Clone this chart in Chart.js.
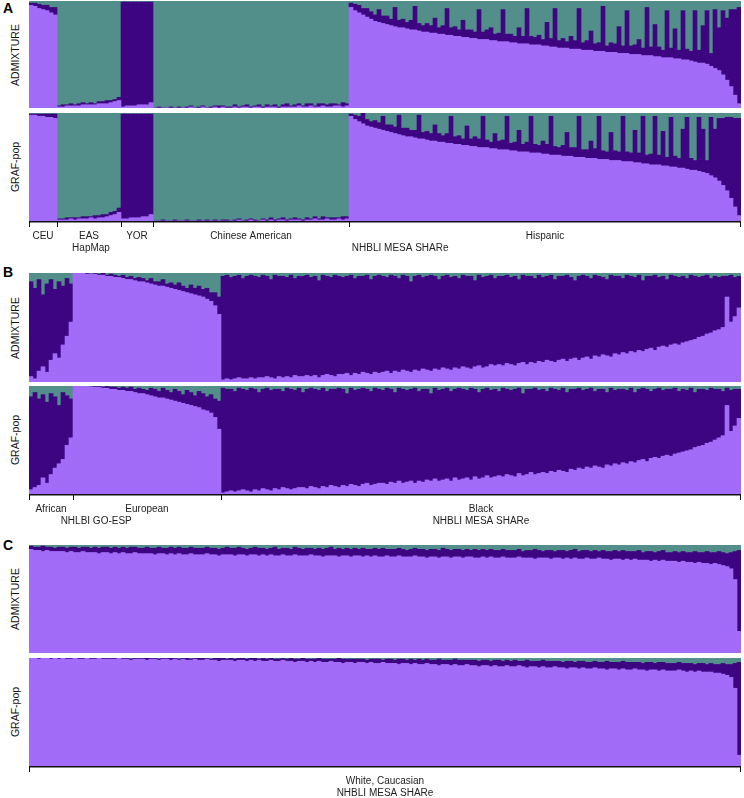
<!DOCTYPE html>
<html>
<head>
<meta charset="utf-8">
<script src="https://cdn.jsdelivr.net/npm/chart.js@4.4.1/dist/chart.umd.min.js"></script>
<style>
  body { margin: 0; background: #fff; width: 744px; height: 798px; position: relative; overflow: hidden;
         font-family: "Liberation Sans", Arial, sans-serif; }
  .row { position: absolute; left: 24px; width: 720px; }
  .letter { position: absolute; left: 3px; font-weight: bold; font-size: 14px; line-height: 14px; color: #000; }
  .ylab { position: absolute; left: -45px; width: 120px; text-align: center; font-size: 10.5px; line-height: 12px;
          color: #111; transform: rotate(-90deg); }
</style>
</head>
<body>

<div class="letter" style="top:1px">A</div>
<div class="letter" style="top:265px">B</div>
<div class="letter" style="top:538px">C</div>

<div class="ylab" style="top:49px">ADMIXTURE</div>
<div class="ylab" style="top:161px">GRAF-pop</div>
<div class="ylab" style="top:322px">ADMIXTURE</div>
<div class="ylab" style="top:434px">GRAF-pop</div>
<div class="ylab" style="top:593px">ADMIXTURE</div>
<div class="ylab" style="top:706px">GRAF-pop</div>

<div class="row" style="top:1px;height:107px"><canvas id="aAdm"></canvas></div>
<div class="row" style="top:113px;height:145px"><canvas id="aGraf"></canvas></div>
<div class="row" style="top:273px;height:109px"><canvas id="bAdm"></canvas></div>
<div class="row" style="top:386px;height:145px"><canvas id="bGraf"></canvas></div>
<div class="row" style="top:545px;height:108px"><canvas id="cAdm"></canvas></div>
<div class="row" style="top:658px;height:140px"><canvas id="cGraf"></canvas></div>

<script>
const LIGHT = '#a26cf8';   // European
const DARK = '#3d0580';    // African
const TEAL = '#528f8b';    // East Asian

// ---------- panel A: CEU | EAS | YOR | Chinese American | Hispanic ----------
const aGroups = ['CEU', 'EAS', 'YOR', 'Chinese American', 'Hispanic'];
const aGroupSizes = [7, 16, 8, 49, 98];
const aSubLabels = ['HapMap', 'NHBLI MESA SHARe'];
const aSubLabelPos = [15, 92.3];

const aAdmLight = [
  96,95,93,92,91,89,87,
  1,1,2,2,2,2,3,3,3,3,4,4,4,5,6,7,
  1,2,2,2,3,3,3,5,
  0,0,0,0,0,0,0,0,0,1,0,0,1,0,0,1,0,1,0,0,1,0,1,1,0,1,1,0,1,1,1,0,1,1,1,1,2,1,1,2,1,1,2,1,1,2,2,1,2,
  94,91,89,87,85,83,81,80,79,78, 77,76,75,75,74,73,73,72,71,71, 70,70,69,69,68,68,67,67,66,66,
  65,65,64,64,64,63,63,62,62,62, 61,61,60,60,60,59,59,59,58,58, 57,57,56,56,56,55,55,55,54,54,
  54,53,53,53,52,52,52,51,51,51, 50,50,50,49,49,49,48,48,47,47, 47,46,46,45,45,44,43,42,42,41,
  39,37,35,31,26,20,12,4
];
const aAdmDark = [
  2,3,4,4,5,5,7,
  1,2,1,2,1,2,2,1,2,1,2,2,3,2,2,3,
  98,97,97,97,96,96,96,94,
  0,1,0,0,1,0,1,0,1,1,0,1,1,0,1,1,2,1,1,1,2,1,1,2,1,1,2,1,2,1,2,1,2,3,1,2,2,1,3,2,1,3,2,2,3,2,1,4,2,
  4,6,7,6,8,7,6,12,7,8, 6,18,7,8,6,9,22,7,6,8, 7,14,6,8,25,7,9,6,16,7,
  8,6,28,7,9,12,6,8,30,7, 8,6,15,7,33,8,7,9,6,22, 8,36,7,9,6,12,8,38,7,9,
  18,7,8,42,6,9,8,25,7,40, 8,9,14,7,45,8,30,9,7,44, 9,28,8,46,10,9,48,12,35,50,
  12,55,40,60,58,72,80,90
];
const aGrafLight = [
  98,98,97,97,96,96,95,
  1,1,1,2,1,2,2,2,3,2,3,3,4,5,6,8,
  2,2,3,3,3,4,4,6,
  0,0,0,0,0,0,0,0,0,0,0,0,0,0,0,0,0,0,0,0,0,1,0,0,1,0,0,1,0,1,0,1,1,0,1,1,1,0,1,1,2,1,1,2,1,1,2,1,2,
  97,94,92,90,88,87,86,85,84,83, 82,81,80,79,78,78,77,76,76,75, 74,74,73,73,72,72,71,71,70,70,
  69,69,68,68,68,67,67,66,66,66, 65,65,64,64,64,63,63,63,62,62, 61,61,61,60,60,60,59,59,59,58,
  58,58,57,57,57,56,56,56,55,55, 55,54,54,53,53,52,52,52,51,51, 50,50,49,49,48,47,47,46,45,44,
  42,40,37,33,28,21,13,5
];
const aGrafDark = [
  1,1,2,2,3,3,4,
  1,1,2,1,2,1,2,2,1,3,2,3,2,3,3,4,
  97,97,96,96,96,95,95,93,
  0,0,1,0,0,1,0,0,1,0,0,1,0,1,0,1,0,1,1,0,1,1,0,1,1,1,0,1,1,2,1,1,2,1,1,2,1,1,2,1,2,1,3,1,2,2,1,3,2,
  2,4,5,10,6,5,7,6,13,6, 7,6,18,7,8,6,7,22,6,8, 7,15,8,6,9,25,7,8,6,18,
  7,9,8,29,7,6,14,8,9,31, 7,8,20,7,9,34,8,7,12,9, 36,8,7,10,22,8,9,38,7,8,
  16,9,40,8,7,26,9,8,42,9, 8,30,9,44,8,10,45,9,32,8, 46,10,9,36,48,11,9,50,40,12,
  54,45,58,62,68,75,82,90
];

// ---------- panel B: African | European (GO-ESP) | Black (MESA) ----------
const bGroups = ['African', 'European', 'Black'];
const bGroupSizes = [11, 37, 130];
const bSubLabels = ['NHLBI GO-ESP', 'NHBLI MESA SHARe'];
const bSubLabelPos = [16.3, 112.5];

const bAdmLight = [
  5,3,10,14,9,20,26,22,34,42,55,
  100,100,100,99,99,99,98,98,97,97, 96,96,95,94,94,93,92,92,91,90, 89,88,88,87,86,85,84,83,82,81,
  80,79,78,76,74,70,62,
  2,3,2,3,4,3,3,4,3,4, 4,5,4,3,5,4,5,4,6,5, 5,6,5,6,4,6,7,6,5,7, 7,8,6,8,7,9,8,7,9,8,
  9,10,8,10,9,11,10,9,11,10, 12,11,10,12,11,13,12,11,13,12, 14,13,12,14,15,13,14,16,15,16,
  15,17,16,15,17,18,16,18,17,19, 18,20,19,18,20,21,19,21,22,20, 22,23,21,24,23,25,24,23,26,25,
  27,26,28,27,29,28,30,31,29,32, 33,32,34,35,34,36,37,38,39,41, 42,44,45,47,48,50,78,55,60,68
];
const bAdmTeal = [
  8,14,6,20,10,6,15,8,12,5,10,
  0,0,0,0,1,0,1,0,2,1, 2,3,2,4,3,5,4,5,7,5, 8,8,6,10,9,11,9,12,14,11,
  14,12,15,14,18,18,22,
  3,2,4,3,2,5,3,2,3,4, 2,3,6,2,3,3,4,2,5,3, 3,2,4,3,7,2,3,4,2,3, 4,3,2,5,3,3,2,6,3,2,
  3,4,2,3,5,2,3,8,3,2, 4,3,2,3,6,3,2,4,3,5, 2,3,3,7,2,4,3,2,5,3,
  3,2,4,3,6,2,3,3,5,2, 4,3,2,6,3,3,2,4,7,3, 2,3,5,2,3,4,6,2,3,3,
  5,2,3,4,2,7,3,3,2,4, 3,6,2,3,4,3,5,2,3,4, 3,2,5,3,4,3,3,2,4,3
];
const bGrafLight = [
  4,6,8,15,10,18,24,28,32,45,52,
  100,100,100,100,99,99,99,98,98,97, 97,96,96,95,95,94,93,93,92,91, 90,89,89,88,87,86,85,84,83,82,
  81,80,78,77,75,71,60,
  1,2,3,2,3,4,3,2,4,3, 5,4,3,5,4,6,5,4,5,6, 6,5,7,6,5,7,6,8,7,6, 8,7,9,8,7,9,10,8,9,10,
  10,9,11,10,12,10,11,12,10,12, 11,13,12,14,12,13,14,12,15,13, 14,15,13,16,14,15,17,15,16,17,
  16,18,17,16,19,17,18,20,18,19, 20,19,21,20,22,21,20,23,22,24, 23,25,24,26,25,24,27,26,28,27,
  29,28,30,29,31,32,30,33,34,33, 35,36,35,37,38,39,40,41,43,44, 45,47,48,50,52,54,82,58,63,70
];
const bGrafTeal = [
  10,6,12,8,15,7,10,18,6,9,12,
  0,0,0,0,1,0,0,1,0,1, 1,2,1,2,1,3,2,3,4,2, 3,5,2,4,6,3,5,8,4,6,
  9,5,7,10,8,12,14,
  2,3,3,5,2,3,4,2,3,6, 3,2,4,3,3,5,2,3,4,2, 6,3,2,3,4,2,5,3,3,2, 3,7,2,4,3,2,3,5,2,3,
  4,2,3,6,2,3,4,3,2,5, 3,3,7,2,4,3,2,5,3,2, 3,4,2,3,6,3,2,4,3,5,
  2,3,4,3,2,7,3,3,2,4, 3,5,2,3,4,2,6,3,3,2, 4,3,2,5,3,3,6,2,4,3,
  3,4,2,6,3,2,3,5,3,2, 4,3,3,2,5,3,4,2,6,3, 3,4,2,3,3,5,2,4,3,3
];

// ---------- panel C: White, Caucasian (MESA) ----------
const cGroups = ['White, Caucasian'];
const cGroupSizes = [178];
const cSubLabels = ['NHBLI MESA SHARe'];
const cSubLabelPos = [88.5];

const cAdmLight = [
  96,95,95,94,95,94,94,94,94,93, 94,93,93,94,93,93,93,92,93,93, 92,93,92,93,92,92,93,92,92,92,
  92,91,92,92,91,92,91,92,91,91, 92,91,91,91,92,91,91,90,91,91, 91,90,91,91,90,91,91,90,91,90,
  91,90,90,91,90,90,91,90,90,90, 91,90,90,89,90,90,90,89,90,90, 89,90,90,89,90,89,90,89,89,90,
  89,89,90,89,89,89,90,89,89,88, 89,89,88,89,89,88,89,89,88,89, 89,88,88,89,88,89,88,88,89,88,
  88,88,89,88,88,88,87,88,88,88, 87,88,88,87,88,87,88,87,87,88, 87,87,88,87,87,86,87,87,86,87,
  86,87,86,86,86,85,86,85,86,85, 85,85,84,85,84,84,83,84,83,83, 82,83,82,81,80,78,68,20
];
const cAdmTeal = [
  1,2,2,1,2,2,3,2,2,3, 2,2,3,2,2,3,2,3,2,2, 3,2,3,2,3,2,2,3,3,2,
  3,3,2,3,3,2,3,2,3,3, 2,3,3,3,2,3,3,4,3,2, 3,3,2,3,4,3,2,3,3,4,
  3,2,4,3,3,4,2,3,4,3, 3,4,3,4,3,2,4,3,4,3, 4,3,4,3,4,4,3,4,3,4,
  4,4,3,4,5,4,3,4,4,5, 4,4,5,3,4,5,4,4,5,4, 5,4,5,4,5,4,5,5,4,5,
  5,5,4,6,5,5,4,5,6,5, 5,6,5,5,6,5,4,6,5,5, 6,5,6,5,6,6,5,6,5,6,
  6,6,5,7,6,6,7,6,5,7, 7,6,7,6,7,7,6,7,7,6, 7,7,6,7,8,7,6,5
];
const cGrafLight = [
  100,100,99,100,100,99,100,99,100,99, 99,100,99,99,100,99,99,100,99,99, 99,99,100,99,99,98,99,99,99,98,
  99,99,98,99,99,98,99,98,99,98, 98,99,98,98,99,98,98,97,98,98, 98,97,98,98,97,98,97,98,97,97,
  98,97,97,98,97,97,96,97,97,96, 97,96,97,96,96,97,96,96,95,96, 96,95,96,96,95,96,95,95,96,95,
  95,95,94,95,95,94,95,94,94,95, 94,94,93,94,94,93,94,93,93,94, 93,93,92,93,93,92,93,92,92,93,
  92,92,93,92,91,92,92,91,92,91, 91,92,91,91,90,91,91,90,91,90, 90,91,90,90,89,90,90,89,90,89,
  89,90,89,89,88,89,89,88,89,88, 88,88,89,88,87,88,87,88,87,87, 87,86,86,85,84,82,72,10
];
const cGrafTeal = [
  0,0,0,0,0,0,0,0,0,0, 0,0,0,0,0,0,0,0,0,0, 0,0,0,0,0,1,0,0,0,0,
  0,0,1,0,0,0,0,1,0,0, 1,0,0,0,0,1,0,0,0,1, 0,1,0,0,1,0,0,1,0,1,
  0,1,1,0,1,0,1,1,0,1, 1,1,0,1,1,1,1,0,1,1, 1,1,1,1,2,1,1,1,2,1,
  1,2,1,1,2,1,2,1,2,1, 2,2,1,2,2,2,1,2,2,2, 2,2,3,2,2,3,2,2,3,2,
  3,2,3,3,2,3,3,3,2,3, 3,3,3,4,3,3,4,3,3,4, 4,3,4,4,3,4,4,4,3,4,
  4,4,4,5,4,4,5,4,4,5, 5,5,4,5,5,5,6,5,5,6, 5,6,6,5,6,6,5,4
];

// whatever is not in the two given components
const rest = (a, b) => a.map((v, i) => 100 - v - b[i]);

const groupAxis = {
  id: 'groupAxis',
  afterDraw(chart, args, opts) {
    const { ctx, chartArea, scales: { x } } = chart;
    const y0 = chartArea.bottom;
    ctx.save();
    ctx.strokeStyle = '#111';
    ctx.lineWidth = 1.5;
    ctx.beginPath();
    ctx.moveTo(chartArea.left, y0 + 0.75);
    ctx.lineTo(chartArea.right, y0 + 0.75);
    ctx.stroke();

    // ticks at group boundaries, labels centred on groups
    ctx.lineWidth = 1;
    ctx.fillStyle = '#222';
    ctx.font = '10px "Liberation Sans", Arial, sans-serif';
    ctx.textAlign = 'center';
    ctx.textBaseline = 'middle';
    let start = 0;
    const bounds = [0];
    opts.sizes.forEach((n, i) => {
      const mid = start + (n - 1) / 2;
      ctx.fillText(opts.groups[i], x.getPixelForValue(mid), y0 + 15);
      start += n;
      bounds.push(start);
    });
    bounds.forEach(b => {
      let px = Math.round(x.getPixelForValue(b - 0.5));
      if (px >= chartArea.right) px -= 1;
      ctx.beginPath();
      ctx.moveTo(px + 0.5, y0);
      ctx.lineTo(px + 0.5, y0 + 6);
      ctx.stroke();
    });
    opts.sub.forEach((t, i) => {
      ctx.fillText(t, x.getPixelForValue(opts.subPos[i]), y0 + 27);
    });
    ctx.restore();
  }
};

makeRow = (id, light, dark, teal, axis) => {
  const labels = light.map((_, i) => i);
  return new Chart(document.getElementById(id), {
    type: 'bar',
    data: {
      labels: labels,
      datasets: [
        { data: light, backgroundColor: LIGHT },
        { data: dark, backgroundColor: DARK },
        { data: teal, backgroundColor: TEAL }
      ]
    },
    options: {
      animation: false,
      responsive: true,
      maintainAspectRatio: false,
      events: [],
      layout: { padding: { left: 5, right: 3, top: 0, bottom: axis ? (id === 'cGraf' ? 32 : 37) : 0 } },
      datasets: { bar: { barPercentage: 1, categoryPercentage: 1, borderWidth: 0 } },
      plugins: {
        legend: { display: false },
        tooltip: { enabled: false },
        groupAxis: axis || {}
      },
      scales: {
        x: { display: false, stacked: true },
        y: { display: false, stacked: true, min: 0, max: 100 }
      }
    },
    plugins: axis ? [groupAxis] : []
  });
}

makeRow('aAdm', aAdmLight, aAdmDark, rest(aAdmLight, aAdmDark));
makeRow('aGraf', aGrafLight, aGrafDark, rest(aGrafLight, aGrafDark),
  { groups: aGroups, sizes: aGroupSizes, sub: aSubLabels, subPos: aSubLabelPos });
makeRow('bAdm', bAdmLight, rest(bAdmLight, bAdmTeal), bAdmTeal);
makeRow('bGraf', bGrafLight, rest(bGrafLight, bGrafTeal), bGrafTeal,
  { groups: bGroups, sizes: bGroupSizes, sub: bSubLabels, subPos: bSubLabelPos });
makeRow('cAdm', cAdmLight, rest(cAdmLight, cAdmTeal), cAdmTeal);
makeRow('cGraf', cGrafLight, rest(cGrafLight, cGrafTeal), cGrafTeal,
  { groups: cGroups, sizes: cGroupSizes, sub: cSubLabels, subPos: cSubLabelPos });
</script>
</body>
</html>
